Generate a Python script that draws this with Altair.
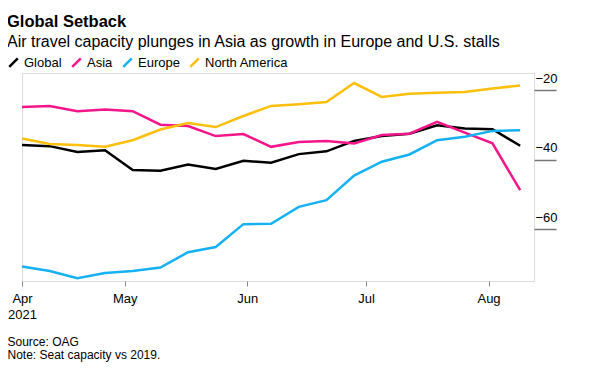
import altair as alt
import pandas as pd

dates = ["2021-04-05", "2021-04-12", "2021-04-19", "2021-04-26", "2021-05-03",
         "2021-05-10", "2021-05-17", "2021-05-24", "2021-05-31", "2021-06-07",
         "2021-06-14", "2021-06-21", "2021-06-28", "2021-07-05", "2021-07-12",
         "2021-07-19", "2021-07-26", "2021-08-02", "2021-08-09"]

global_vals = [-35.8, -36.1, -37.8, -37.3, -43.0, -43.2, -41.4, -42.7, -40.3, -40.9,
               -38.4, -37.6, -34.6, -33.2, -32.5, -30.1, -31.0, -31.2, -36.0]
asia_vals = [-24.8, -24.5, -26.0, -25.5, -26.0, -29.9, -30.3, -33.2, -32.6, -36.3,
             -34.9, -34.6, -35.3, -32.9, -32.5, -29.1, -32.2, -35.3, -48.8]
europe_vals = [-70.8, -72.1, -74.2, -72.7, -72.1, -71.1, -66.7, -65.2, -58.6, -58.5,
               -53.6, -51.7, -44.6, -40.6, -38.5, -34.4, -33.4, -31.7, -31.5]
na_vals = [-33.9, -35.5, -35.8, -36.3, -34.4, -31.3, -29.4, -30.6, -27.4, -24.5,
           -24.0, -23.4, -17.9, -21.9, -21.0, -20.7, -20.5, -19.5, -18.6]

series_names = ["Global", "Asia", "Europe", "North America"]
series_colors = ["#000000", "#f5158a", "#16b1f3", "#fcbf0c"]
y_ticks = [-20, -40, -60]

rows = []
for name, vals in zip(series_names, [global_vals, asia_vals, europe_vals, na_vals]):
    for d, v in zip(dates, vals):
        rows.append({"date": d, "series": name, "value": v})
df = pd.DataFrame(rows)

font = "Liberation Sans"

x_ticks = [
    alt.DateTime(year=2021, month=4, date=5, utc=True),
    alt.DateTime(year=2021, month=5, date=1, utc=True),
    alt.DateTime(year=2021, month=6, date=1, utc=True),
    alt.DateTime(year=2021, month=7, date=1, utc=True),
    alt.DateTime(year=2021, month=8, date=1, utc=True),
]
x_domain = [
    alt.DateTime(year=2021, month=4, date=5, utc=True),
    alt.DateTime(year=2021, month=8, date=12, hours=12, utc=True),
]

chart = alt.Chart(df).mark_line(strokeWidth=2.5).encode(
    x=alt.X(
        "date:T",
        scale=alt.Scale(type="utc", domain=x_domain),
        axis=alt.Axis(
            values=x_ticks,
            labelExpr="utcFormat(datum.value, '%b') == 'Apr' ? ['Apr', '2021'] : utcFormat(datum.value, '%b')",
            domain=False, grid=False, tickSize=5, tickColor="#888888", tickWidth=1,
            labelPadding=6, labelFontSize=13, labelFont=font, labelColor="#000000",
            labelFlush=False, labelOverlap=False, labelLineHeight=16,
            title=["Source: OAG", "Note: Seat capacity vs 2019."],
            titleX=-15, titleY=64, titleAnchor="start", titleAlign="left",
            titleBaseline="alphabetic", titleFontSize=12, titleFontWeight="normal",
            titleFont=font, titleLineHeight=13, titleColor="#000000",
        ),
    ),
    y=alt.Y(
        "value:Q",
        scale=alt.Scale(domain=[-75, -15], nice=False, zero=False),
        axis=alt.Axis(
            orient="right", values=y_ticks, domain=False, grid=False,
            tickSize=22, tickColor="#777777", tickWidth=1.5,
            labelPadding=-21, labelAlign="left", labelBaseline="alphabetic",
            labelOffset=-8, labelFontSize=13, labelFont=font, labelColor="#000000",
            title=None,
        ),
    ),
    color=alt.Color(
        "series:N",
        scale=alt.Scale(domain=series_names, range=series_colors),
        legend=alt.Legend(
            title=None, orient="none", legendX=-15, legendY=-17,
            direction="horizontal", symbolType="M-1,1L1,-1", symbolSize=72,
            symbolStrokeWidth=2.5, labelFontSize=13, labelFont=font,
            labelColor="#000000", columnPadding=5, labelOffset=4,
        ),
    ),
).properties(
    width=512,
    height=208,
    autosize="none",
    padding={"left": 14, "top": 65, "right": 45, "bottom": 82},
    title=alt.TitleParams(
        text="Global Setback",
        subtitle="Air travel capacity plunges in Asia as growth in Europe and U.S. stalls",
        anchor="start", frame="group", dx=-15,
        font=font, fontSize=16.5, fontWeight="bold", color="#000000",
        subtitleFont=font, subtitleFontSize=16, subtitleColor="#000000",
        subtitlePadding=4, offset=6,
    ),
).configure_view(stroke=None).configure(background="white")

chart.save("out.html", embed_options={"renderer": "svg", "actions": False})
